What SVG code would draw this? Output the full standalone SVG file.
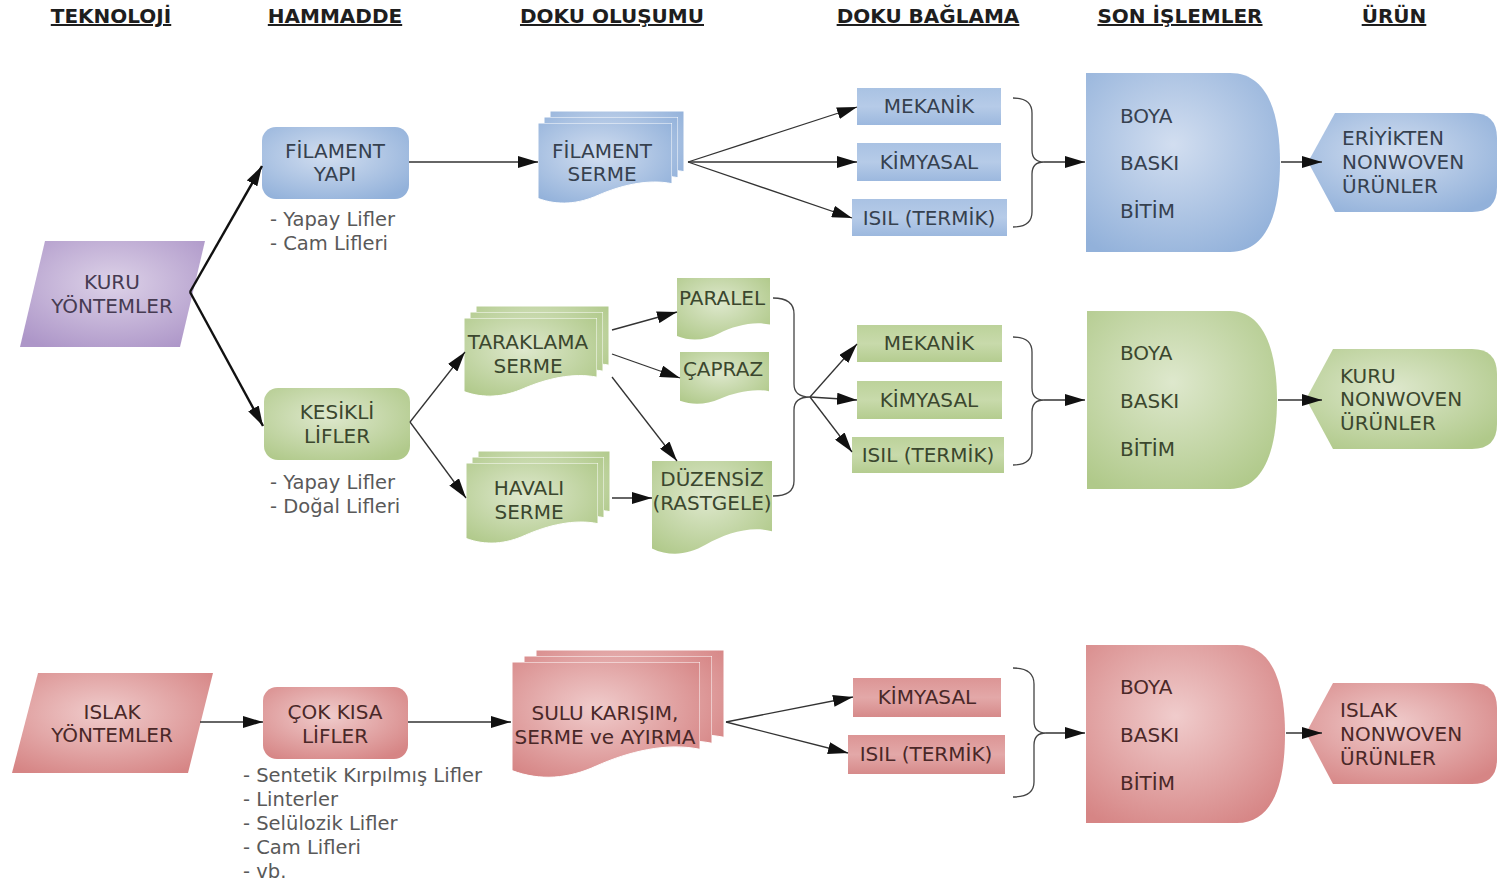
<svg xmlns="http://www.w3.org/2000/svg" xmlns:xlink="http://www.w3.org/1999/xlink" width="1497" height="882" viewBox="0 0 1497 882">
<style>
.h{font-family:"DejaVu Sans",Verdana,sans-serif;font-weight:bold;font-size:20px;fill:#1e1e1e;text-decoration:underline;text-anchor:middle}
.t{font-family:"DejaVu Sans",Verdana,sans-serif;font-size:20px}
.m{text-anchor:middle}
.tb{fill:#36414f}.tg{fill:#3b472e}.tr{fill:#4a2828}.tp{fill:#463b52}
.l{font-family:"DejaVu Sans",Verdana,sans-serif;font-size:19.5px;fill:#595959}
.c{stroke:#333;stroke-width:1.3;fill:none;marker-end:url(#ah)}
.ck{stroke:#111;stroke-width:2.4;fill:none;marker-end:url(#ah)}
.b{stroke:#444;stroke-width:1.3;fill:none}
.ly{stroke:#ffffff;stroke-width:1}
</style>
<defs>
<marker id="ah" markerUnits="userSpaceOnUse" markerWidth="20" markerHeight="12" refX="20" refY="6" orient="auto" viewBox="0 0 20 12"><path d="M0,0 L20,6 L0,12 Z" fill="#111"/></marker>
<radialGradient id="gB" cx="0.45" cy="0.4" r="0.7"><stop offset="0" stop-color="#d2def0"/><stop offset="1" stop-color="#92b1da"/></radialGradient>
<radialGradient id="gG" cx="0.45" cy="0.4" r="0.7"><stop offset="0" stop-color="#dee8cd"/><stop offset="1" stop-color="#b0c98a"/></radialGradient>
<radialGradient id="gR" cx="0.45" cy="0.4" r="0.7"><stop offset="0" stop-color="#f0cccc"/><stop offset="1" stop-color="#d68585"/></radialGradient>
<radialGradient id="gP" cx="0.5" cy="0.4" r="0.7"><stop offset="0" stop-color="#ddd2e8"/><stop offset="1" stop-color="#ad96c8"/></radialGradient>
<linearGradient id="rB" x1="0" y1="0" x2="0" y2="1"><stop offset="0" stop-color="#a9c2e3"/><stop offset="0.5" stop-color="#b6cbe8"/><stop offset="1" stop-color="#9cb8de"/></linearGradient>
<linearGradient id="rG" x1="0" y1="0" x2="0" y2="1"><stop offset="0" stop-color="#bcd29a"/><stop offset="0.5" stop-color="#c8daab"/><stop offset="1" stop-color="#b4cc8f"/></linearGradient>
<linearGradient id="rR" x1="0" y1="0" x2="0" y2="1"><stop offset="0" stop-color="#dc9595"/><stop offset="0.5" stop-color="#e3a8a8"/><stop offset="1" stop-color="#d68a8a"/></linearGradient>
<symbol id="doc" viewBox="0 0 100 100" preserveAspectRatio="none"><path vector-effect="non-scaling-stroke" d="M0,0 H100 V74 C82,68 62,76 45,88 C30,99 15,101 0,92 Z"/></symbol>
</defs>
<rect width="1497" height="882" fill="#ffffff"/>

<g id="headers">
<text class="h" x="111" y="23">TEKNOLOJİ</text>
<text class="h" x="335" y="23">HAMMADDE</text>
<text class="h" x="612" y="23">DOKU OLUŞUMU</text>
<text class="h" x="928" y="23">DOKU BAĞLAMA</text>
<text class="h" x="1180" y="23">SON İŞLEMLER</text>
<text class="h" x="1394" y="23">ÜRÜN</text>
</g>

<!-- Row 1 (blue) -->
<g id="kuru">
<polygon points="45,241 205,241 180,347 20,347" fill="url(#gP)"/>
<text class="t m tp" x="112" y="289">KURU</text>
<text class="t m tp" x="112" y="313">YÖNTEMLER</text>
</g>
<g id="filament-yapi">
<rect x="262" y="127" width="147" height="72" rx="14" fill="url(#gB)"/>
<text class="t m tb" x="335" y="158">FİLAMENT</text>
<text class="t m tb" x="335" y="181">YAPI</text>
<text class="l" x="270" y="226">- Yapay Lifler</text>
<text class="l" x="270" y="250">- Cam Lifleri</text>
</g>
<g id="filament-serme">
<use href="#doc" x="550" y="111" width="134" height="82" fill="url(#gB)" class="ly"/>
<use href="#doc" x="544" y="117" width="134" height="82" fill="url(#gB)" class="ly"/>
<use href="#doc" x="538" y="123" width="134" height="82" fill="url(#gB)" class="ly"/>
<text class="t m tb" x="602" y="158">FİLAMENT</text>
<text class="t m tb" x="602" y="181">SERME</text>
</g>
<g id="mekanik1">
<rect x="857" y="88" width="144" height="37" fill="url(#rB)"/>
<text class="t m tb" x="929" y="113">MEKANİK</text>
</g>
<g id="kimyasal1">
<rect x="857" y="143" width="144" height="38" fill="url(#rB)"/>
<text class="t m tb" x="929" y="169">KİMYASAL</text>
</g>
<g id="isil1">
<rect x="852" y="199" width="155" height="37" fill="url(#rB)"/>
<text class="t m tb" x="929" y="225">ISIL (TERMİK)</text>
</g>
<g id="son1">
<path d="M1086,73 H1230 C1267.5,73 1280,113 1280,162.5 C1280,212 1267.5,252 1230,252 H1086 Z" fill="url(#gB)"/>
<text class="t tb" x="1120" y="123">BOYA</text>
<text class="t tb" x="1120" y="170">BASKI</text>
<text class="t tb" x="1120" y="218">BİTİM</text>
</g>
<g id="urun1">
<path d="M1308,162 L1335,113 H1472 Q1497,113 1497,138 V187 Q1497,212 1472,212 H1335 Z" fill="url(#gB)"/>
<text class="t tb" x="1342" y="145">ERİYİKTEN</text>
<text class="t tb" x="1342" y="169">NONWOVEN</text>
<text class="t tb" x="1342" y="193">ÜRÜNLER</text>
</g>

<!-- Row 2 (green) -->
<g id="kesikli">
<rect x="264" y="388" width="146" height="72" rx="14" fill="url(#gG)"/>
<text class="t m tg" x="337" y="419">KESİKLİ</text>
<text class="t m tg" x="337" y="443">LİFLER</text>
<text class="l" x="270" y="489">- Yapay Lifler</text>
<text class="l" x="270" y="513">- Doğal Lifleri</text>
</g>
<g id="taraklama">
<use href="#doc" x="476" y="306" width="133" height="80" fill="url(#gG)" class="ly"/>
<use href="#doc" x="470" y="312" width="133" height="80" fill="url(#gG)" class="ly"/>
<use href="#doc" x="464" y="318" width="133" height="80" fill="url(#gG)" class="ly"/>
<text class="t m tg" x="528" y="349">TARAKLAMA</text>
<text class="t m tg" x="528" y="373">SERME</text>
</g>
<g id="havali">
<use href="#doc" x="478" y="451" width="132" height="82" fill="url(#gG)" class="ly"/>
<use href="#doc" x="472" y="457" width="132" height="82" fill="url(#gG)" class="ly"/>
<use href="#doc" x="466" y="463" width="132" height="82" fill="url(#gG)" class="ly"/>
<text class="t m tg" x="529" y="495">HAVALI</text>
<text class="t m tg" x="529" y="519">SERME</text>
</g>
<g id="paralel">
<use href="#doc" x="677" y="278" width="93" height="63" fill="url(#gG)"/>
<text class="t m tg" x="722" y="305">PARALEL</text>
</g>
<g id="capraz">
<use href="#doc" x="680" y="352" width="89" height="53" fill="url(#gG)"/>
<text class="t m tg" x="723" y="376">ÇAPRAZ</text>
</g>
<g id="duzensiz">
<use href="#doc" x="652" y="461" width="120" height="95" fill="url(#gG)"/>
<text class="t m tg" x="712" y="486">DÜZENSİZ</text>
<text class="t m tg" x="712" y="510">(RASTGELE)</text>
</g>
<g id="mekanik2">
<rect x="857" y="325" width="145" height="37" fill="url(#rG)"/>
<text class="t m tg" x="929" y="350">MEKANİK</text>
</g>
<g id="kimyasal2">
<rect x="857" y="381" width="145" height="38" fill="url(#rG)"/>
<text class="t m tg" x="929" y="407">KİMYASAL</text>
</g>
<g id="isil2">
<rect x="852" y="437" width="152" height="36" fill="url(#rG)"/>
<text class="t m tg" x="928" y="462">ISIL (TERMİK)</text>
</g>
<g id="son2">
<path d="M1087,311 H1230 C1264,311 1277,351 1277,400 C1277,449 1264,489 1230,489 H1087 Z" fill="url(#gG)"/>
<text class="t tg" x="1120" y="360">BOYA</text>
<text class="t tg" x="1120" y="408">BASKI</text>
<text class="t tg" x="1120" y="456">BİTİM</text>
</g>
<g id="urun2">
<path d="M1306,399 L1333,349 H1472 Q1497,349 1497,374 V424 Q1497,449 1472,449 H1333 Z" fill="url(#gG)"/>
<text class="t tg" x="1340" y="383">KURU</text>
<text class="t tg" x="1340" y="406">NONWOVEN</text>
<text class="t tg" x="1340" y="430">ÜRÜNLER</text>
</g>

<!-- Row 3 (red) -->
<g id="islak">
<polygon points="38,673 213,673 188,773 12,773" fill="url(#gR)"/>
<text class="t m tr" x="112" y="719">ISLAK</text>
<text class="t m tr" x="112" y="742">YÖNTEMLER</text>
</g>
<g id="cok-kisa">
<rect x="263" y="687" width="145" height="72" rx="14" fill="url(#gR)"/>
<text class="t m tr" x="335" y="719">ÇOK KISA</text>
<text class="t m tr" x="335" y="743">LİFLER</text>
<text class="l" x="243" y="782">- Sentetik Kırpılmış Lifler</text>
<text class="l" x="243" y="806">- Linterler</text>
<text class="l" x="243" y="830">- Selülozik Lifler</text>
<text class="l" x="243" y="854">- Cam Lifleri</text>
<text class="l" x="243" y="878">- vb.</text>
</g>
<g id="sulu">
<use href="#doc" x="536" y="650" width="188" height="118" fill="url(#gR)" class="ly"/>
<use href="#doc" x="524" y="656" width="188" height="118" fill="url(#gR)" class="ly"/>
<use href="#doc" x="512" y="662" width="188" height="118" fill="url(#gR)" class="ly"/>
<text class="t m tr" x="605" y="720">SULU KARIŞIM,</text>
<text class="t m tr" x="605" y="744">SERME ve AYIRMA</text>
</g>
<g id="kimyasal3">
<rect x="853" y="678" width="148" height="39" fill="url(#rR)"/>
<text class="t m tr" x="927" y="704">KİMYASAL</text>
</g>
<g id="isil3">
<rect x="848" y="735" width="157" height="39" fill="url(#rR)"/>
<text class="t m tr" x="926" y="761">ISIL (TERMİK)</text>
</g>
<g id="son3">
<path d="M1086,645 H1237 C1273,645 1285,685 1285,734 C1285,783 1273,823 1237,823 H1086 Z" fill="url(#gR)"/>
<text class="t tr" x="1120" y="694">BOYA</text>
<text class="t tr" x="1120" y="742">BASKI</text>
<text class="t tr" x="1120" y="790">BİTİM</text>
</g>
<g id="urun3">
<path d="M1306,733 L1333,683 H1472 Q1497,683 1497,708 V759 Q1497,784 1472,784 H1333 Z" fill="url(#gR)"/>
<text class="t tr" x="1340" y="717">ISLAK</text>
<text class="t tr" x="1340" y="741">NONWOVEN</text>
<text class="t tr" x="1340" y="765">ÜRÜNLER</text>
</g>

<g id="connectors">
<path class="ck" d="M190,292 L262,166"/>
<path class="ck" d="M190,292 L263,426"/>
<path class="c" d="M409,162 L538,162"/>
<path class="c" d="M688,162 L857,107"/>
<path class="c" d="M688,162 L857,162"/>
<path class="c" d="M688,162 L852,218"/>
<path class="b" d="M1013,98 Q1032,98 1032,113 V150 Q1032,162 1044,162 Q1032,162 1032,174 V212 Q1032,227 1013,227"/>
<path class="c" d="M1044,162 L1085,162"/>
<path class="c" d="M1281,162 L1322,162"/>

<path class="c" d="M410,422 L465,352"/>
<path class="c" d="M410,422 L466,498"/>
<path class="c" d="M612,330 L677,312"/>
<path class="c" d="M612,354 L680,378"/>
<path class="c" d="M612,377 L677,461"/>
<path class="c" d="M612,498 L652,498"/>
<path class="b" d="M773,298 Q794,298 794,314 V384 Q794,397 810,397 Q794,397 794,410 V481 Q794,496 773,496"/>
<path class="c" d="M810,397 L857,344"/>
<path class="c" d="M810,397 L857,400"/>
<path class="c" d="M810,397 L852,452"/>
<path class="b" d="M1013,337 Q1032,337 1032,352 V388 Q1032,400 1044,400 Q1032,400 1032,412 V450 Q1032,465 1013,465"/>
<path class="c" d="M1044,400 L1085,400"/>
<path class="c" d="M1278,400 L1322,400"/>

<path class="c" d="M200,722 L263,722"/>
<path class="c" d="M408,722 L511,722"/>
<path class="c" d="M726,722 L853,697"/>
<path class="c" d="M726,722 L848,753"/>
<path class="b" d="M1013,668 Q1034,668 1034,684 V721 Q1034,733 1046,733 Q1034,733 1034,745 V782 Q1034,797 1013,797"/>
<path class="c" d="M1046,733 L1085,733"/>
<path class="c" d="M1286,733 L1322,733"/>
</g>
</svg>
